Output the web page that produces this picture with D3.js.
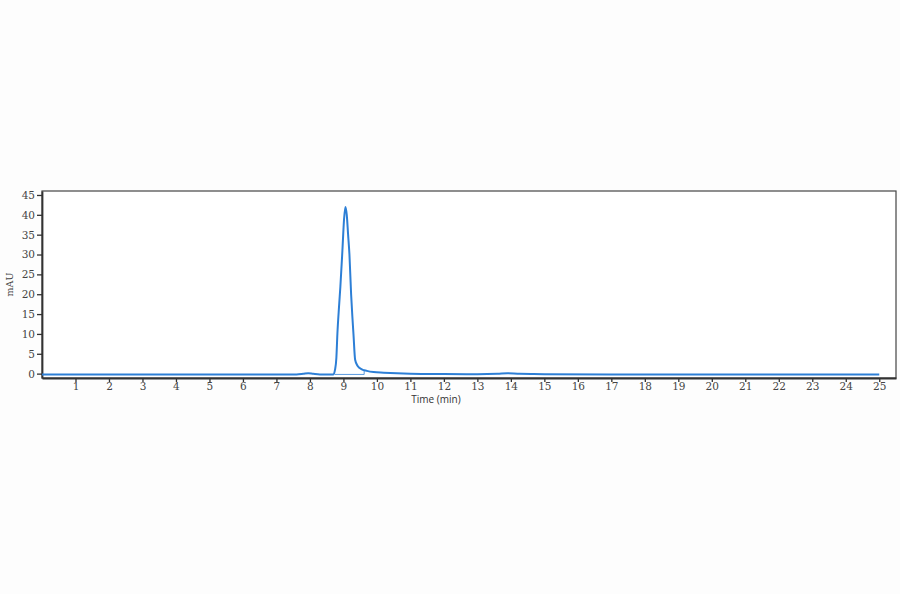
<!DOCTYPE html>
<html>
<head>
<meta charset="utf-8">
<script src="https://cdn.jsdelivr.net/npm/d3@7"></script>
<style>
  body { margin: 0; background: #fdfdfd; }
  .tick text { font-family: "DejaVu Serif", serif; font-size: 10.5px; fill: #444; }
  .axis path, .axis line { stroke: #333; }
</style>
</head>
<body>
<div id="chart"></div>
<script>
// chromatogram trace (time in min, signal in mAU)
const times = [0, 2, 4, 6, 7, 7.6, 7.8, 7.95, 8.1, 8.3, 8.70, 8.75, 8.79, 8.82, 8.87, 8.91, 8.97, 9.02, 9.06,
  9.10, 9.14, 9.18, 9.23, 9.27, 9.30, 9.35, 9.42, 9.55, 9.7, 9.9, 10.2, 10.6, 11, 12, 13, 13.6, 13.9, 14.2,
  14.6, 15, 17, 20, 23, 25];
const signal = [-0.2, -0.2, -0.2, -0.2, -0.2, -0.2, -0.05, 0.1, -0.05, -0.2, -0.2, 1, 4, 10, 17, 22, 31, 39, 42,
  40, 35, 30, 20, 14, 10, 3.5, 2.0, 1.1, 0.7, 0.4, 0.25, 0.1, 0.0, -0.1, -0.15, -0.05, 0.1, 0.0,
  -0.1, -0.15, -0.2, -0.2, -0.2, -0.2];

// integration baseline drawn under the main peak
const peakStart = 8.74;
const peakEnd = 9.62;

const xTicks = d3.range(1, 26);
const yTicks = d3.range(0, 50, 5);

const svgWidth = 900;
const svgHeight = 594;
const plot = {left: 42, right: 896, top: 191, bottom: 378};

const svg = d3.select('#chart').append('svg')
  .attr('width', svgWidth).attr('height', svgHeight);

const x = d3.scaleLinear().domain([0, 25.5]).range([plot.left, plot.right]);
const y = d3.scaleLinear().domain([-1.1, 46]).range([plot.bottom, plot.top]);

// frame
svg.append('rect')
  .attr('x', plot.left).attr('y', plot.top)
  .attr('width', plot.right - plot.left).attr('height', plot.bottom - plot.top)
  .attr('fill', '#fff').attr('stroke', '#444').attr('stroke-width', 1.2);

const xAxis = svg.append('g').attr('class', 'axis')
  .attr('transform', `translate(0, ${plot.bottom})`)
  .call(d3.axisBottom(x).tickValues(xTicks).tickSize(4).tickSizeOuter(0).tickPadding(1));

const yAxis = svg.append('g').attr('class', 'axis')
  .attr('transform', `translate(${plot.left}, 0)`)
  .call(d3.axisLeft(y).tickValues(yTicks).tickSize(5).tickSizeOuter(0).tickPadding(2));

xAxis.select('.domain').attr('stroke-width', 1.8);
yAxis.select('.domain').attr('stroke-width', 1.8);
xAxis.selectAll('.tick line').attr('stroke-width', 1.3);
yAxis.selectAll('.tick line').attr('stroke-width', 1.3);

// integration marks
svg.append('line')
  .attr('x1', x(peakStart)).attr('x2', x(peakEnd))
  .attr('y1', y(-0.2)).attr('y2', y(-0.2))
  .attr('stroke', '#2d7fd6').attr('stroke-width', 0.8);
svg.append('line')
  .attr('x1', x(peakEnd)).attr('x2', x(peakEnd))
  .attr('y1', y(-0.2)).attr('y2', y(1.0))
  .attr('stroke', '#2d7fd6').attr('stroke-width', 0.8);

const trace = times.map((t, i) => [t, signal[i]]);
const line = d3.line().x(d => x(d[0])).y(d => y(d[1])).curve(d3.curveMonotoneX);

svg.append('path')
  .datum(trace)
  .attr('d', line)
  .attr('fill', 'none')
  .attr('stroke', '#2d7fd6')
  .attr('stroke-width', 2);

// axis titles
svg.append('text')
  .attr('x', 436).attr('y', 403)
  .attr('text-anchor', 'middle')
  .style('font-family', '"Open Sans", sans-serif').style('font-size', '10px').style('fill', '#333')
  .text('Time (min)');

svg.append('text')
  .attr('transform', `translate(13, ${(plot.top + plot.bottom) / 2}) rotate(-90)`)
  .attr('text-anchor', 'middle')
  .style('font-family', '"DejaVu Serif", serif').style('font-size', '9.5px').style('fill', '#444')
  .text('mAU');
</script>
</body>
</html>
